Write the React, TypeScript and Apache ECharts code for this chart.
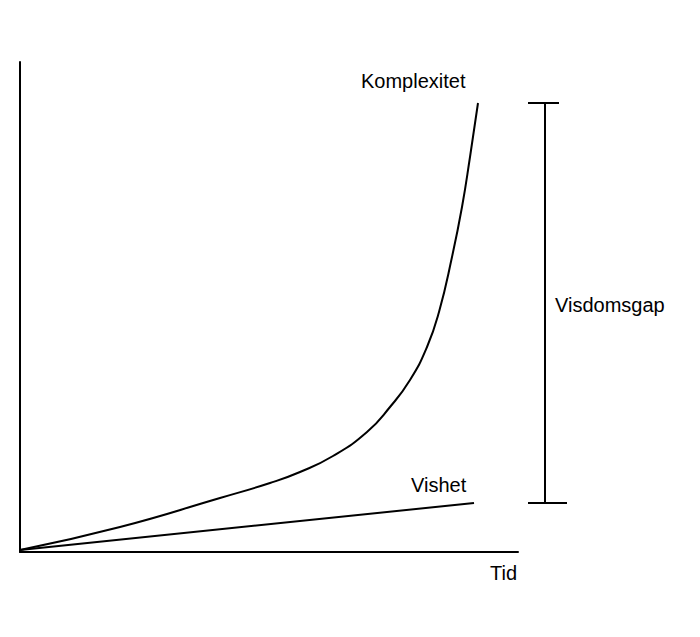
import React, { useEffect, useRef } from "react";
import * as echarts from "echarts";

const komplexitetX = [0, 100, 200, 250, 280, 313, 347, 370, 390, 407, 419, 432, 442, 450, 458];
const komplexitetY = [2, 25, 54, 69, 80, 96, 120, 145, 172, 205, 240, 295, 345, 395, 449];
const vishetX = [0, 454];
const vishetY = [2, 49];
const labels = { komplexitet: "Komplexitet", vishet: "Vishet", tid: "Tid", gap: "Visdomsgap" };

export default function App() {
  const ref = useRef<HTMLDivElement>(null);
  useEffect(() => {
    if (!ref.current) return;
    const chart = echarts.init(ref.current, null, { renderer: "svg" });
    const font = "20px 'Liberation Sans', Arial, sans-serif";
    chart.setOption({
      animation: false,
      backgroundColor: "#fff",
      grid: { left: 20, top: 62, right: 182, bottom: 85 },
      xAxis: {
        type: "value", min: 0, max: 498,
        axisLine: { show: true, lineStyle: { color: "#000", width: 2 } },
        axisTick: { show: false }, axisLabel: { show: false }, splitLine: { show: false },
      },
      yAxis: {
        type: "value", min: 0, max: 490,
        axisLine: { show: true, lineStyle: { color: "#000", width: 2 } },
        axisTick: { show: false }, axisLabel: { show: false }, splitLine: { show: false },
      },
      series: [
        {
          type: "line", name: labels.komplexitet, smooth: 0.5, symbol: "none",
          lineStyle: { color: "#000", width: 2 },
          data: komplexitetX.map((x, i) => [x, komplexitetY[i]]),
        },
        {
          type: "line", name: labels.vishet, symbol: "none",
          lineStyle: { color: "#000", width: 2 },
          data: vishetX.map((x, i) => [x, vishetY[i]]),
        },
      ],
    });
    const topY = chart.convertToPixel({ gridIndex: 0 }, [0, komplexitetY[komplexitetY.length - 1]])[1];
    const botY = chart.convertToPixel({ gridIndex: 0 }, [0, vishetY[vishetY.length - 1]])[1];
    const bx = 545;
    chart.setOption({
      graphic: [
        { type: "line", shape: { x1: bx, y1: topY, x2: bx, y2: botY }, style: { stroke: "#000", lineWidth: 2 } },
        { type: "line", shape: { x1: 528, y1: topY, x2: 559, y2: topY }, style: { stroke: "#000", lineWidth: 2 } },
        { type: "line", shape: { x1: 528, y1: botY, x2: 567, y2: botY }, style: { stroke: "#000", lineWidth: 2 } },
        { type: "text", x: 361, y: 81, style: { text: labels.komplexitet, font, fill: "#000", textVerticalAlign: "middle" } },
        { type: "text", x: 411, y: 485, style: { text: labels.vishet, font, fill: "#000", textVerticalAlign: "middle" } },
        { type: "text", x: 490, y: 573, style: { text: labels.tid, font, fill: "#000", textVerticalAlign: "middle" } },
        { type: "text", x: 555, y: 305, style: { text: labels.gap, font, fill: "#000", textVerticalAlign: "middle" } },
      ],
    });
    return () => chart.dispose();
  }, []);
  return <div ref={ref} style={{ position: "fixed", left: 0, top: 0, width: 700, height: 637 }} />;
}
